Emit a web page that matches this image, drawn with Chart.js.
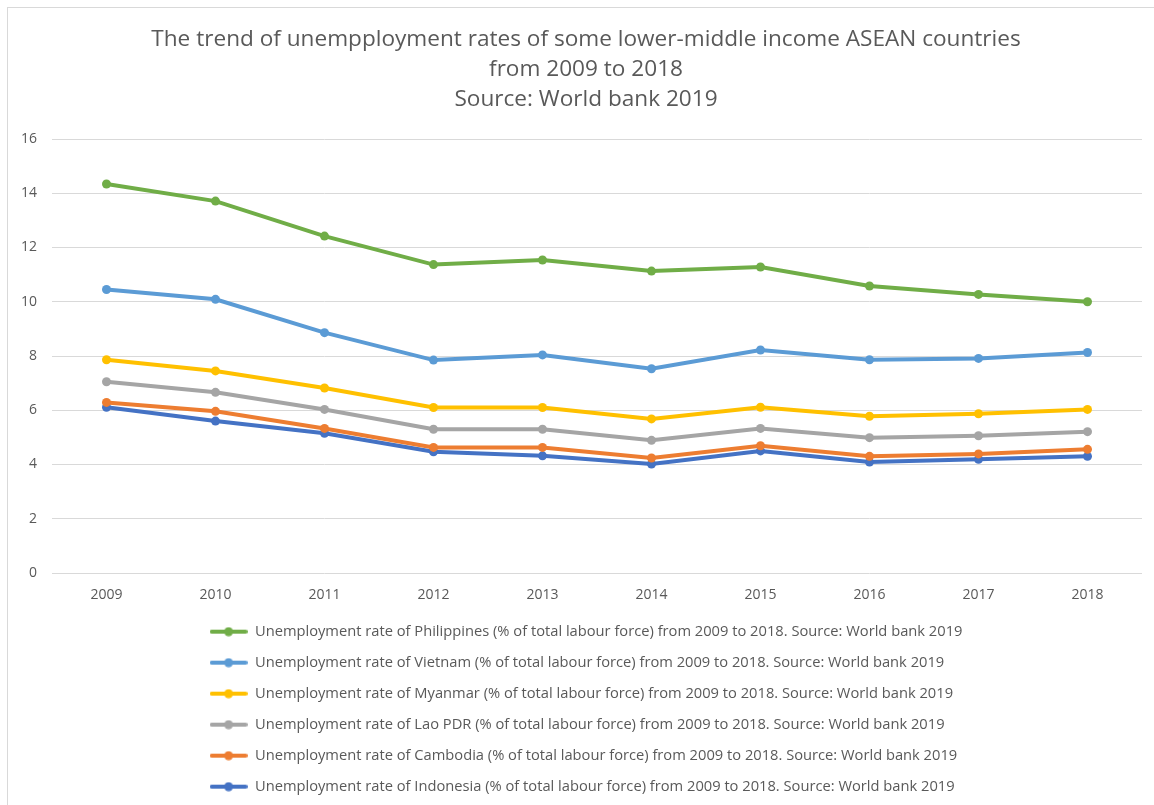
<!DOCTYPE html>
<html>
<head>
<meta charset="utf-8">
<script src="https://cdn.jsdelivr.net/npm/chart.js@4/dist/chart.umd.min.js"></script>
<style>
  html, body { margin: 0; padding: 0; background: #fff; overflow: hidden; }
  #frame { position: absolute; left: 7px; top: 7px; width: 1200px; height: 900px; border: 1px solid #d9d9d9; }
  #wrap { position: absolute; left: 0; top: 0; width: 1154px; height: 804px; }
</style>
</head>
<body>
<div id="frame"></div>
<div id="wrap"><canvas id="trendChart"></canvas></div>
<script>
const years = ['2009', '2010', '2011', '2012', '2013', '2014', '2015', '2016', '2017', '2018'];
const yTicks = [0, 2, 4, 6, 8, 10, 12, 14, 16];

const philippines = [14.34, 13.71, 12.42, 11.37, 11.54, 11.13, 11.28, 10.58, 10.27, 10.00];
const vietnam     = [10.45, 10.09, 8.86, 7.85, 8.04, 7.53, 8.22, 7.86, 7.91, 8.13];
const myanmar     = [7.86, 7.45, 6.82, 6.10, 6.10, 5.68, 6.11, 5.78, 5.87, 6.03];
const laoPdr      = [7.05, 6.66, 6.03, 5.30, 5.30, 4.89, 5.33, 4.99, 5.06, 5.21];
const cambodia    = [6.29, 5.96, 5.33, 4.63, 4.63, 4.24, 4.69, 4.30, 4.39, 4.56];
const indonesia   = [6.11, 5.60, 5.15, 4.47, 4.32, 4.02, 4.50, 4.09, 4.19, 4.30];

const countries = ['Philippines', 'Vietnam', 'Myanmar', 'Lao PDR', 'Cambodia', 'Indonesia'];
const seriesValues = [philippines, vietnam, myanmar, laoPdr, cambodia, indonesia];
const seriesColors = ['#70AD47', '#5B9BD5', '#FFC000', '#A5A5A5', '#ED7D31', '#4472C4'];

const textColor = '#595959';
const fontFamily = '"Open Sans", "Noto Sans", sans-serif';

// little "line with a dot" picture used as legend marker
function legendMarker(color) {
  const c = document.createElement('canvas');
  c.width = 38;
  c.height = 10;
  const g = c.getContext('2d');
  g.strokeStyle = color;
  g.lineWidth = 4;
  g.lineCap = 'round';
  g.beginPath();
  g.moveTo(2, 5);
  g.lineTo(36, 5);
  g.stroke();
  g.fillStyle = color;
  g.beginPath();
  g.arc(19, 5, 4.5, 0, Math.PI * 2);
  g.fill();
  return c;
}

// y labels sit partly inside the left padding, so let the axis box reach the canvas edge;
// also give every legend row the width of the longest one so they all start at the same x
const layoutTweaks = {
  id: 'layoutTweaks',
  afterLayout(chart) {
    chart.scales.y.left = 0;
    const legend = chart.legend;
    if (legend && legend.lineWidths) {
      const widest = Math.max(...legend.lineWidths);
      legend.lineWidths = legend.lineWidths.map(() => widest);
    }
  }
};

const datasets = countries.map((name, i) => ({
  label: 'Unemployment rate of ' + name + ' (% of total labour force) from 2009 to 2018. Source: World bank 2019',
  data: seriesValues[i],
  borderColor: seriesColors[i],
  backgroundColor: seriesColors[i],
  borderWidth: 4,
  pointRadius: 4.5,
  pointHoverRadius: 5,
  pointBorderWidth: 0,
  tension: 0
}));

new Chart(document.getElementById('trendChart'), {
  type: 'line',
  data: { labels: years, datasets: datasets },
  plugins: [layoutTweaks],
  options: {
    responsive: true,
    maintainAspectRatio: false,
    animation: false,
    // left padding keeps title and legend centred like the original
    layout: { padding: { left: 30, right: 12, top: 0, bottom: 0 } },
    scales: {
      x: {
        offset: true,
        grid: { display: false, drawTicks: false },
        border: { display: false },
        ticks: { color: textColor, font: { family: fontFamily, size: 14 }, padding: 13.6 },
        afterFit: function (scale) { scale.height = 35; }
      },
      y: {
        min: 0,
        max: 16,
        ticks: {
          stepSize: 2,
          color: textColor,
          font: { family: fontFamily, size: 14 },
          padding: 15,
          callback: function (v) { return yTicks.includes(v) ? v : ''; }
        },
        grid: { color: '#d9d9d9', lineWidth: 1, drawTicks: false },
        border: { display: false },
        afterFit: function (scale) { scale.width = 22; }
      }
    },
    plugins: {
      title: {
        display: true,
        text: [
          'The trend of unempployment rates of some lower-middle income ASEAN countries',
          'from 2009 to 2018',
          'Source: World bank 2019'
        ],
        color: textColor,
        font: { family: fontFamily, size: 22.6, weight: 'normal', lineHeight: 30 / 22.6 },
        padding: { top: 25, bottom: 24 }
      },
      legend: {
        display: true,
        position: 'bottom',
        labels: {
          color: textColor,
          font: { family: fontFamily, size: 14.7 },
          usePointStyle: true,
          pointStyleWidth: 38,
          padding: 16.3,
          generateLabels: function (chart) {
            const items = Chart.defaults.plugins.legend.labels.generateLabels(chart);
            return items.map((item, i) => {
              item.pointStyle = legendMarker(seriesColors[i]);
              return item;
            });
          }
        }
      },
      tooltip: { enabled: true }
    }
  }
});
</script>
</body>
</html>
